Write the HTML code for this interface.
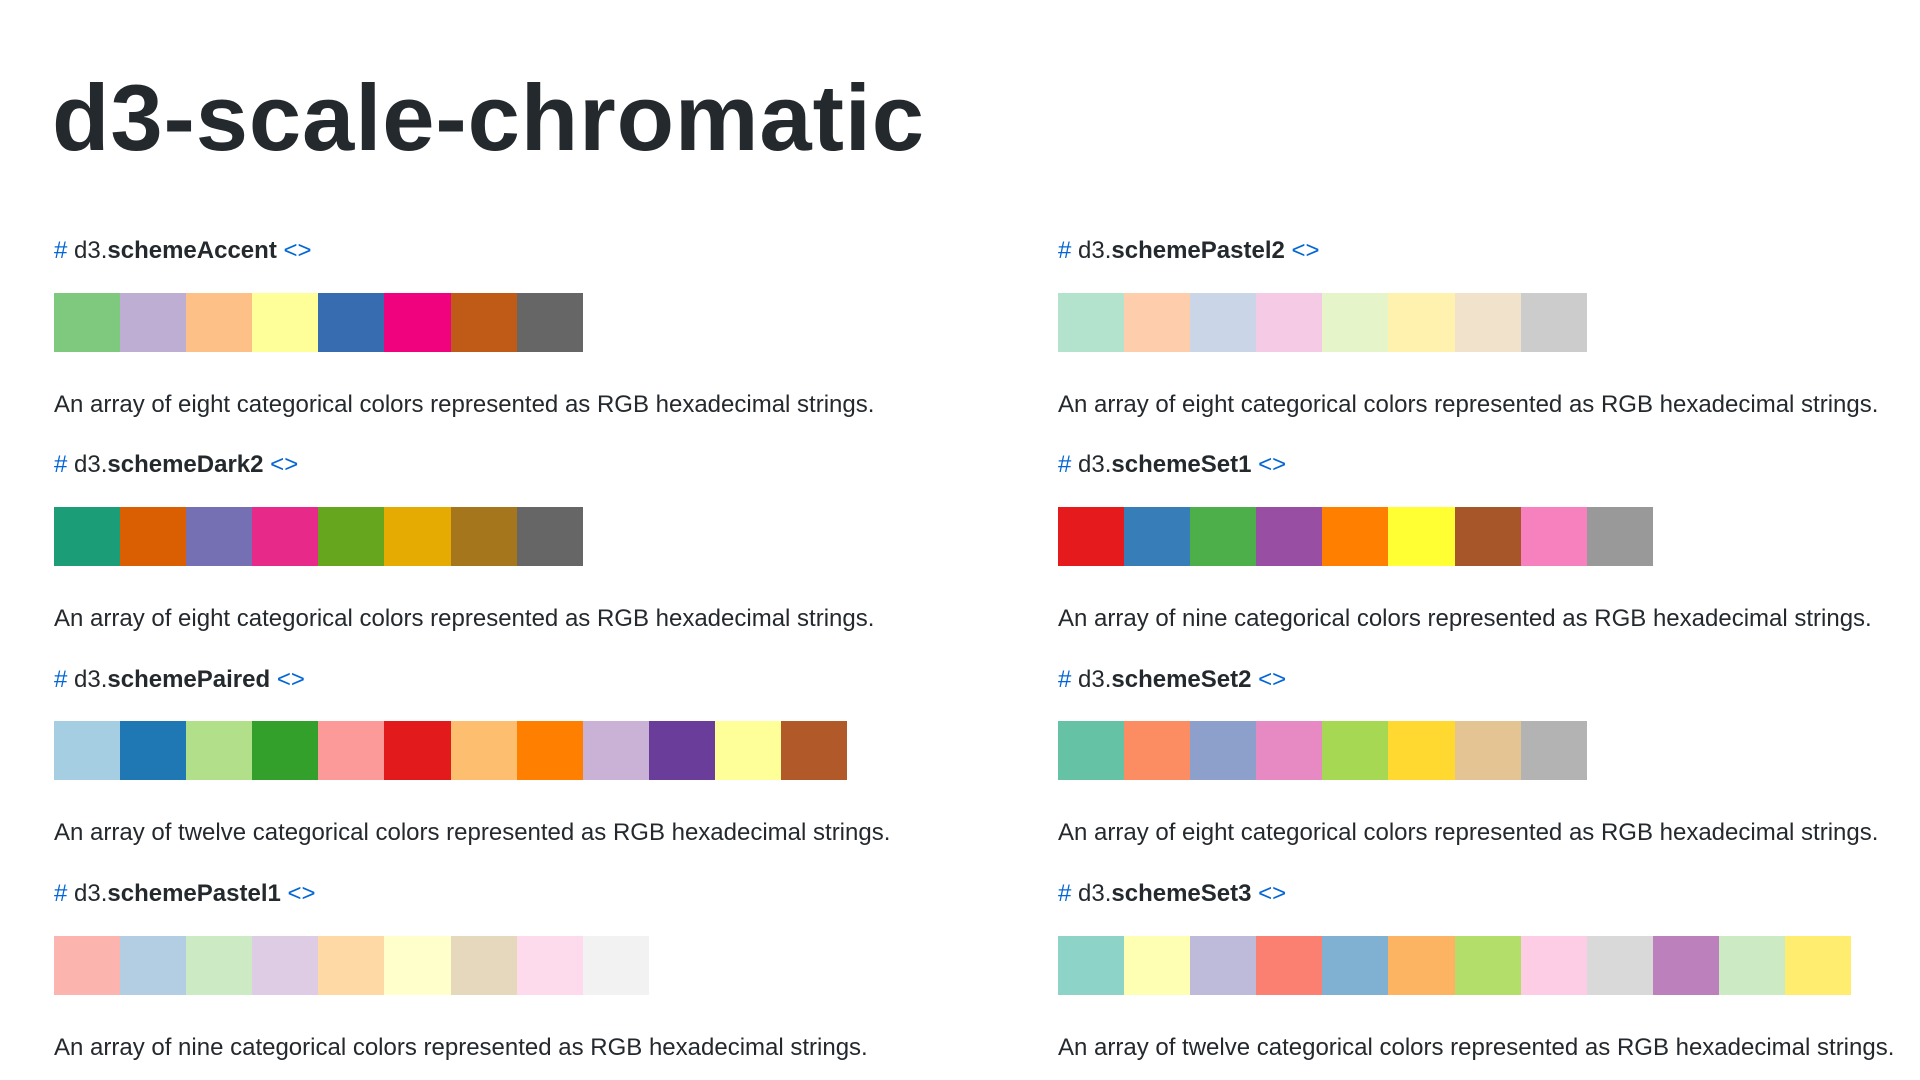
<!DOCTYPE html>
<html><head><meta charset="utf-8">
<style>
html,body{margin:0;padding:0;background:#fff;width:1920px;height:1080px;overflow:hidden;font-family:"Liberation Sans",Arial,sans-serif;color:#24292e}
h1{position:absolute;left:52px;top:71px;margin:0;font-size:94px;font-weight:bold;line-height:1;letter-spacing:0.9px}
.h{position:absolute;font-size:24px;line-height:1;white-space:nowrap}
.h .a{color:#0366d6}
.h b{font-weight:bold}
.sw{position:absolute;height:59px;display:flex}
.sw div{width:66.1px;height:59px}
.d{position:absolute;font-size:24px;line-height:1;white-space:nowrap}
</style></head>
<body>
<h1>d3-scale-chromatic</h1>
<div id="root"></div>
<script>
const schemeNames = ["schemeAccent","schemeDark2","schemePaired","schemePastel1","schemePastel2","schemeSet1","schemeSet2","schemeSet3"];
const countWords = ["eight","eight","twelve","nine","eight","nine","eight","twelve"];
const accent = ["#7fc97f","#beaed4","#fdc086","#ffff99","#386cb0","#f0027f","#bf5b17","#666666"];
const dark2 = ["#1b9e77","#d95f02","#7570b3","#e7298a","#66a61e","#e6ab02","#a6761d","#666666"];
const paired = ["#a6cee3","#1f78b4","#b2df8a","#33a02c","#fb9a99","#e31a1c","#fdbf6f","#ff7f00","#cab2d6","#6a3d9a","#ffff99","#b15928"];
const pastel1 = ["#fbb4ae","#b3cde3","#ccebc5","#decbe4","#fed9a6","#ffffcc","#e5d8bd","#fddaec","#f2f2f2"];
const pastel2 = ["#b3e2cd","#fdcdac","#cbd5e8","#f4cae4","#e6f5c9","#fff2ae","#f1e2cc","#cccccc"];
const set1 = ["#e41a1c","#377eb8","#4daf4a","#984ea3","#ff7f00","#ffff33","#a65628","#f781bf","#999999"];
const set2 = ["#66c2a5","#fc8d62","#8da0cb","#e78ac3","#a6d854","#ffd92f","#e5c494","#b3b3b3"];
const set3 = ["#8dd3c7","#ffffb3","#bebada","#fb8072","#80b1d3","#fdb462","#b3de69","#fccde5","#d9d9d9","#bc80bd","#ccebc5","#ffed6f"];
const schemeColors = [accent,dark2,paired,pastel1,pastel2,set1,set2,set3];

const root = document.getElementById('root');
const colX = [54, 1058];
const rowTop = [0, 214.3, 428.6, 643];
schemeNames.forEach((name, i) => {
  const x = colX[Math.floor(i/4)];
  const dy = rowTop[i%4];
  const h = document.createElement('div');
  h.className = 'h';
  h.style.left = x + 'px';
  h.style.top = (239 + dy) + 'px';
  h.innerHTML = '<span class="a">#</span> d3.<b>' + name + '</b> <span class="a">&lt;&gt;</span>';
  
  
  root.appendChild(h);
  const sw = document.createElement('div');
  sw.className = 'sw';
  sw.style.left = x + 'px';
  sw.style.top = (292.5 + dy) + 'px';
  
  
  schemeColors[i].forEach(c => {
    const s = document.createElement('div');
    s.style.background = c;
    
    
    sw.appendChild(s);
  });
  root.appendChild(sw);
  const d = document.createElement('div');
  d.className = 'd';
  d.style.left = x + 'px';
  d.style.top = (392.5 + dy) + 'px';
  d.textContent = 'An array of ' + countWords[i] + ' categorical colors represented as RGB hexadecimal strings.';
  
  
  root.appendChild(d);
});
</script>
</body></html>
